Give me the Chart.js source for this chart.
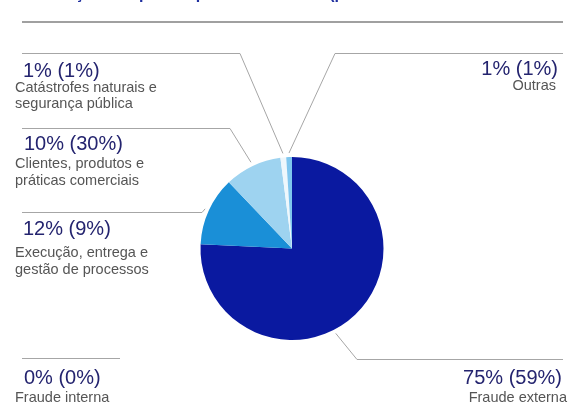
<!DOCTYPE html>
<html lang="pt">
<head>
    <meta charset="UTF-8">
    <title>Distribuição das perdas</title>
    <script src="https://cdn.jsdelivr.net/npm/chart.js"></script>
    <style>
        html, body {
            margin: 0;
            padding: 0;
            background: #ffffff;
        }
        #wrap {
            width: 568px;
            height: 418px;
        }
    </style>
</head>
<body>
    <div id="wrap">
        <canvas id="pieChart" width="568" height="418"></canvas>
    </div>
    <script>
        // Dados: % do montante e, entre parênteses, % do número de eventos
        const categories = [
            'Fraude externa',
            'Fraude interna',
            'Execução, entrega e gestão de processos',
            'Clientes, produtos e práticas comerciais',
            'Catástrofes naturais e segurança pública',
            'Outras'
        ];
        const amountPct = [75, 0, 12, 10, 1, 1];
        const countPct = [59, 0, 9, 30, 1, 1];
        const labelLines = [
            ['Fraude externa'],
            ['Fraude interna'],
            ['Execução, entrega e', 'gestão de processos'],
            ['Clientes, produtos e', 'práticas comerciais'],
            ['Catástrofes naturais e', 'segurança pública'],
            ['Outras']
        ];
        const sliceColors = ['#0a19a0', '#2c2c8c', '#1a8fd7', '#9ed3f0', '#eef7fc', '#7fc6ee'];

        const titleText = 'Distribuição das perdas por área de risco (percentual do montante e do número de ocorrências)';

        // Posição dos rótulos e das linhas de chamada
        const labelLayout = [
            { side: 'right', lineFrom: 563, elbowX: 357, lineY: 359, frac: 0.56, bigX: 562, bigY: 384, subX: 567, subY: [402] },
            { side: 'left',  lineFrom: 22,  elbowX: 120, lineY: 358, frac: 0.5,  bigX: 24,  bigY: 384, subX: 15,  subY: [402] },
            { side: 'left',  lineFrom: 22,  elbowX: 202, lineY: 212, frac: 0.5,  bigX: 23,  bigY: 235, subX: 15,  subY: [257, 274] },
            { side: 'left',  lineFrom: 22,  elbowX: 230, lineY: 128, frac: 0.5,  bigX: 24,  bigY: 150, subX: 15,  subY: [168, 185] },
            { side: 'left',  lineFrom: 22,  elbowX: 240, lineY: 53,  frac: 0.5,  bigX: 23,  bigY: 77,  subX: 15,  subY: [92, 108] },
            { side: 'right', lineFrom: 563, elbowX: 335, lineY: 53,  frac: 0.5,  bigX: 558, bigY: 75,  subX: 556, subY: [90] }
        ];

        const FONT = '"Liberation Sans", Arial, sans-serif';

        // Título, linha de chamada e textos desenhados à volta do gráfico
        const calloutPlugin = {
            id: 'callouts',
            afterDraw(chart) {
                const ctx = chart.ctx;
                const meta = chart.getDatasetMeta(0);
                ctx.save();

                // título (cortado no topo) e filete
                ctx.font = 'bold 16px ' + FONT;
                ctx.fillStyle = '#1f2f9f';
                ctx.textAlign = 'left';
                ctx.textBaseline = 'alphabetic';
                ctx.fillText(titleText, 10, -1);
                ctx.strokeStyle = '#a0a0a0';
                ctx.lineWidth = 2;
                ctx.beginPath();
                ctx.moveTo(22, 22);
                ctx.lineTo(563, 22);
                ctx.stroke();

                categories.forEach((cat, i) => {
                    const lay = labelLayout[i];
                    const arc = meta.data[i];

                    ctx.strokeStyle = '#a6a6a6';
                    ctx.lineWidth = 1;
                    ctx.beginPath();
                    ctx.moveTo(lay.lineFrom, lay.lineY + 0.5);
                    ctx.lineTo(lay.elbowX, lay.lineY + 0.5);
                    if (amountPct[i] > 0) {
                        const a = arc.startAngle + lay.frac * (arc.endAngle - arc.startAngle);
                        const r = arc.outerRadius + 4;
                        ctx.lineTo(arc.x + Math.cos(a) * r, arc.y + Math.sin(a) * r);
                    }
                    ctx.stroke();

                    ctx.textAlign = lay.side === 'right' ? 'right' : 'left';
                    ctx.font = '20px ' + FONT;
                    ctx.fillStyle = '#24246f';
                    ctx.fillText(amountPct[i] + '% (' + countPct[i] + '%)', lay.bigX, lay.bigY);

                    ctx.font = '14.5px ' + FONT;
                    ctx.fillStyle = '#555555';
                    labelLines[i].forEach((line, k) => {
                        ctx.fillText(line, lay.subX, lay.subY[k]);
                    });
                });
                ctx.restore();
            }
        };

        new Chart(document.getElementById('pieChart'), {
            type: 'pie',
            data: {
                labels: categories,
                datasets: [{
                    data: amountPct,
                    backgroundColor: sliceColors,
                    borderWidth: 0
                }]
            },
            options: {
                responsive: false,
                devicePixelRatio: 1,
                animation: false,
                layout: {
                    padding: { left: 200, right: 184, top: 157, bottom: 78 }
                },
                plugins: {
                    legend: { display: false },
                    tooltip: { enabled: false }
                }
            },
            plugins: [calloutPlugin]
        });
    </script>
</body>
</html>
